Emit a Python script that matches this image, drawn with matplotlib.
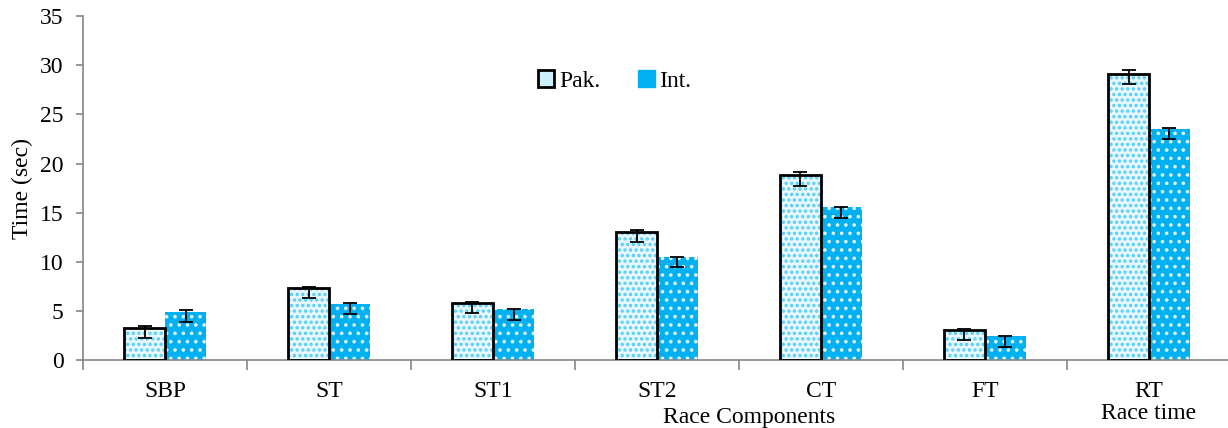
import matplotlib
matplotlib.use("Agg")
import matplotlib.pyplot as plt
import numpy as np
from matplotlib.patches import Patch

plt.rcParams['font.family'] = ['Liberation Serif', 'DejaVu Serif']

categories = ["SBP", "ST", "ST1", "ST2", "CT", "FT", "RT\nRace time"]
pak_values = [3.3, 7.3, 5.85, 13.05, 18.8, 3.1, 29.1]
pak_err_top = [3.5, 7.5, 5.95, 13.25, 19.1, 3.2, 29.55]
pak_err_bottom = [2.3, 6.35, 4.85, 12.0, 17.75, 2.1, 28.1]
int_values = [4.9, 5.75, 5.2, 10.55, 15.55, 2.47, 23.5]
int_err_top = [5.1, 5.8, 5.2, 10.55, 15.6, 2.47, 23.6]
int_err_bottom = [3.85, 4.7, 4.1, 9.5, 14.5, 1.4, 22.5]
series_names = ["Pak.", "Int."]

W, H = 1228, 428
fig = plt.figure(figsize=(W / 100, H / 100), dpi=100)
ax = fig.add_axes([83 / W, (H - 360.3) / H, (1231 - 83) / W, 344.3 / H])

x = np.arange(len(categories))
bw = 0.25
blue = "#00B0F0"
light = "#55CCF6"
FS = 17

# Pak bars: white with blue dots, black edge
with plt.rc_context({"hatch.linewidth": 1.6}):
    ax.bar(x - bw / 2, pak_values, bw, color="#E6F7FD", edgecolor=light, hatch="...",
           linewidth=0, zorder=2)
ax.bar(x - bw / 2, pak_values, bw, fill=False, edgecolor="black", linewidth=2.0, zorder=3)
# Int bars: blue with white dots
with plt.rc_context({"hatch.linewidth": 1.4}):
    ax.bar(x + bw / 2, int_values, bw, color=blue, edgecolor="#DDF5FD", hatch="..",
           linewidth=0, zorder=2)

pv = np.array(pak_values)
iv = np.array(int_values)
ax.errorbar(x - bw / 2, pv, yerr=[pv - np.array(pak_err_bottom), np.array(pak_err_top) - pv],
            fmt="none", ecolor="black", elinewidth=1.3, capsize=5, capthick=1.3, zorder=4)
ax.errorbar(x + bw / 2, iv, yerr=[iv - np.array(int_err_bottom), np.array(int_err_top) - iv],
            fmt="none", ecolor="black", elinewidth=1.3, capsize=5, capthick=1.3, zorder=4)

ax.set_xlim(-0.5, len(categories) - 0.5)
ax.set_ylim(0, 35)
ax.set_yticks(np.arange(0, 36, 5))
ax.set_xticks(np.arange(-0.5, len(categories), 1.0))
ax.set_xticklabels([])
ax.set_xticks(x, minor=True)
ax.set_xticklabels(categories, minor=True, fontsize=FS, linespacing=1.05)
ax.tick_params(axis="x", which="minor", length=0, pad=15)
ax.tick_params(axis="x", which="major", length=7, color="#868686", width=1.2, direction="out")
ax.tick_params(axis="y", length=5, color="#868686", width=1.2, labelsize=FS, pad=9)

for s in ["top", "right"]:
    ax.spines[s].set_visible(False)
for s in ["left", "bottom"]:
    ax.spines[s].set_color("#868686")
    ax.spines[s].set_linewidth(1.2)

ax.set_ylabel("Time (sec)", fontsize=FS, labelpad=5)
ax.text(3.56, -5.85, "Race Components", ha="center", va="center", fontsize=FS)

handles = [Patch(facecolor="#CDEFFC", edgecolor="black", linewidth=2.0),
           Patch(facecolor=blue, edgecolor=blue)]
ax.legend(handles, series_names, ncol=2, frameon=False, fontsize=FS,
          loc="center", bbox_to_anchor=(0.463, 0.811), handlelength=0.7,
          handleheight=0.7, handletextpad=0.2, columnspacing=1.6)

fig.savefig("out.png", dpi=100)
